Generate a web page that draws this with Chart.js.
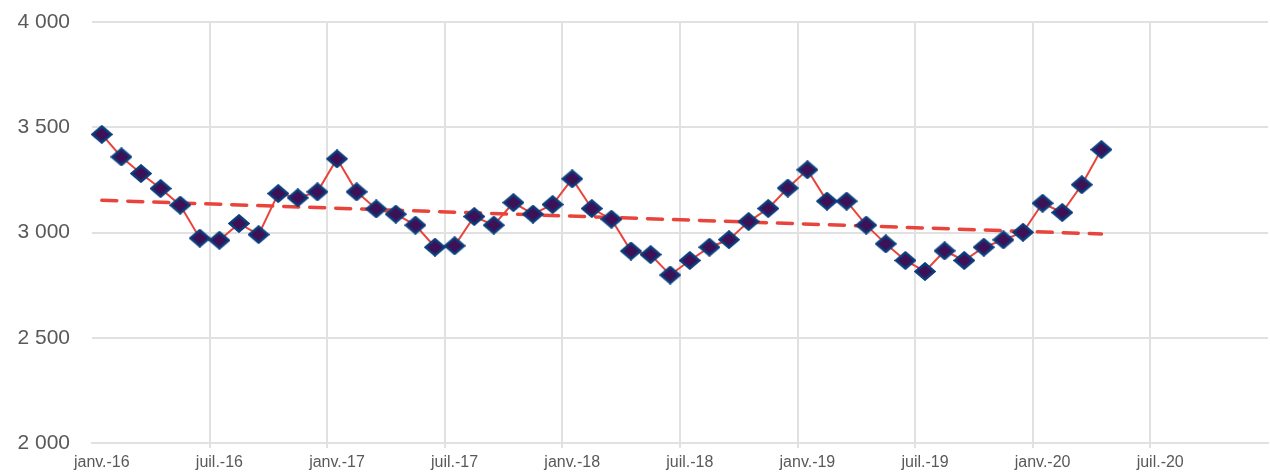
<!DOCTYPE html>
<html>
<head>
<meta charset="utf-8">
<script src="https://cdn.jsdelivr.net/npm/chart.js@4/dist/chart.umd.min.js"></script>
<style>
  body { margin: 0; background: #fff; }
  canvas { display: block; }
</style>
</head>
<body>
<canvas id="chart" width="1270" height="472"></canvas>
<script>
// monthly values, janv. 2016 -> avr. 2020
const monthNames = ["janv.", "févr.", "mars", "avr.", "mai", "juin", "juil.", "août", "sept.", "oct.", "nov.", "déc."];
const years = ["16", "17", "18", "19", "20"];
const values = [
  3466, 3359, 3280, 3209, 3130, 2973, 2963, 3043, 2990, 3185, 3165, 3193,
  3350, 3193, 3112, 3087, 3035, 2930, 2937, 3076, 3035, 3142, 3087, 3133,
  3255, 3114, 3063, 2912, 2895, 2798, 2867, 2930, 2966, 3052, 3114, 3211,
  3298, 3149, 3149, 3035, 2946, 2867, 2815, 2913, 2867, 2930, 2965, 3001,
  3139, 3095, 3227, 3394
];
// trend line read at its two ends
const trendStart = 3153;
const trendEnd = 2993;
const yTicks = [2000, 2500, 3000, 3500, 4000];

const labels = [];
years.forEach(y => monthNames.forEach(m => labels.push(m + "-" + y)));

const trend = labels.map(() => null);
trend[0] = trendStart;
trend[values.length - 1] = trendEnd;

function diamond(w, h) {
  const c = document.createElement("canvas");
  c.width = w;
  c.height = h;
  const g = c.getContext("2d");
  g.beginPath();
  g.moveTo(w / 2, 1.5);
  g.lineTo(w - 1.5, h / 2);
  g.lineTo(w / 2, h - 1.5);
  g.lineTo(1.5, h / 2);
  g.closePath();
  g.fillStyle = "#3e1157";
  g.fill();
  g.lineWidth = 2.5;
  g.strokeStyle = "#0b3c7c";
  g.stroke();
  return c;
}
const marker = diamond(22, 19);

const gridColor = "#e1e1e1";

new Chart(document.getElementById("chart"), {
  type: "line",
  data: {
    labels: labels,
    datasets: [{
      data: values,
      borderColor: "#e9443b",
      borderWidth: 2,
      pointStyle: marker,
      pointRadius: 9,
      order: 0
    }, {
      data: trend,
      borderColor: "#e9443b",
      borderWidth: 3.5,
      borderDash: [15, 11],
      borderCapStyle: "round",
      pointRadius: 0,
      spanGaps: true,
      order: 1
    }]
  },
  options: {
    responsive: false,
    animation: false,
    layout: { autoPadding: false, padding: { top: 22, right: 2, left: 0, bottom: 0 } },
    plugins: { legend: { display: false }, tooltip: { enabled: false } },
    scales: {
      x: {
        offset: true,
        grid: {
          offset: true,
          lineWidth: 2,
          tickLength: 5,
          color: ctx => (ctx.index % 6 === 0 && ctx.index > 0) ? gridColor : "rgba(0,0,0,0)"
        },
        border: { display: true, color: gridColor, width: 2 },
        ticks: {
          autoSkip: false,
          maxRotation: 0,
          padding: 5,
          color: "#595959",
          font: { family: "'Liberation Sans', Arial, sans-serif", size: 16 },
          callback: (v, i) => i % 6 === 0 ? labels[i] : ""
        },
        afterFit: s => { s.height = 29; }
      },
      y: {
        min: yTicks[0],
        max: yTicks[yTicks.length - 1],
        afterBuildTicks: s => { s.ticks = yTicks.map(v => ({ value: v })); },
        // tick marks kept invisible, only used to push labels away from the plot
        grid: { color: gridColor, lineWidth: 2, drawTicks: true, tickLength: 22, tickColor: "rgba(0,0,0,0)" },
        border: { display: false },
        ticks: {
          padding: 0,
          color: "#595959",
          font: { family: "'Liberation Sans', Arial, sans-serif", size: 21 },
          callback: v => String(v).replace(/\B(?=(\d{3})+(?!\d))/g, " ")
        },
        afterFit: s => { s.width = 92; }
      }
    }
  }
});
</script>
</body>
</html>
